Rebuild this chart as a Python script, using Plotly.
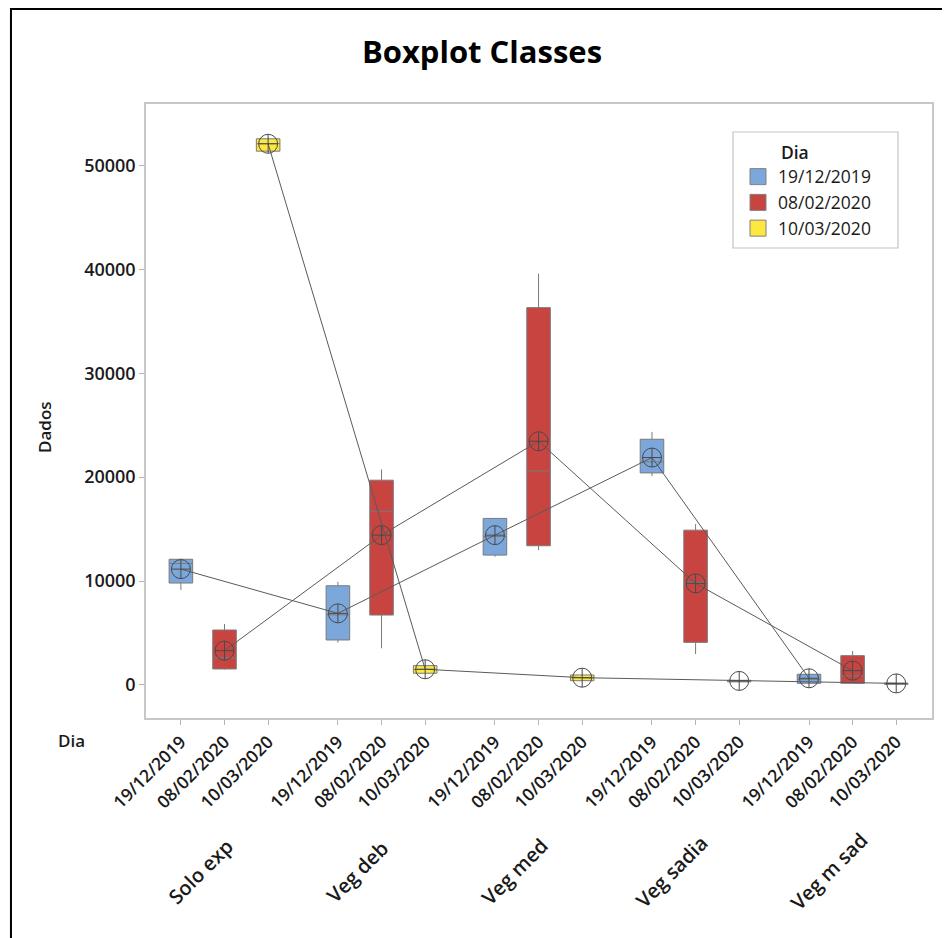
import plotly.graph_objects as go

# ---------------- data ----------------
groups = ["Solo exp", "Veg deb", "Veg med", "Veg sadia", "Veg m sad"]
dates = ["19/12/2019", "08/02/2020", "10/03/2020"]
colors = ["#7BA7DB", "#C84441", "#FDE83F"]

# 19/12/2019
d1_lower = [9150, 4070, 12340, 20100, 150]
d1_q1 = [9810, 4330, 12500, 20410, 160]
d1_median = [11700, 6750, 14300, 21470, 550]
d1_q3 = [12100, 9550, 16030, 23650, 1030]
d1_upper = [12150, 9930, 16050, 24360, 1050]
d1_mean = [11150, 6890, 14420, 21890, 640]

# 08/02/2020
d2_lower = [1500, 3530, 12980, 2980, 150]
d2_q1 = [1540, 6730, 13400, 4100, 160]
d2_median = [2600, 16730, 20600, 9900, 870]
d2_q3 = [5290, 19710, 36320, 14900, 2820]
d2_upper = [5870, 20740, 39590, 15480, 3270]
d2_mean = [3300, 14420, 23460, 9780, 1380]

# 10/03/2020
d3_lower = [51300, 1100, 400, 250, 40]
d3_q1 = [51380, 1130, 410, 300, 60]
d3_median = [52100, 1500, 700, 380, 120]
d3_q3 = [52570, 1860, 960, 450, 180]
d3_upper = [52650, 1900, 1000, 480, 200]
d3_mean = [52090, 1510, 700, 390, 150]

y_ticks = [0, 10000, 20000, 30000, 40000, 50000]

series = [
    (d1_lower, d1_q1, d1_median, d1_q3, d1_upper, d1_mean),
    (d2_lower, d2_q1, d2_median, d2_q3, d2_upper, d2_mean),
    (d3_lower, d3_q1, d3_median, d3_q3, d3_upper, d3_mean),
]

GAP = 3.6  # group spacing in slot units
FONT = "Open Sans"
TXT = "#1a1a1a"

fig = go.Figure()

all_x, all_text = [], []
for g in range(len(groups)):
    for d in range(len(dates)):
        all_x.append(g * GAP + d)
        all_text.append(dates[d])

# boxes
for d, (lo, q1, med, q3, up, mn) in enumerate(series):
    xs = [g * GAP + d for g in range(len(groups))]
    fig.add_trace(go.Box(
        x=xs, q1=q1, median=med, q3=q3, lowerfence=lo, upperfence=up,
        width=0.54, fillcolor=colors[d],
        line=dict(color="#7a7a7a", width=1),
        whiskerwidth=0, boxpoints=False, showlegend=False, hoverinfo="skip",
    ))

# mean connect lines + mean symbols
for d, (lo, q1, med, q3, up, mn) in enumerate(series):
    xs = [g * GAP + d for g in range(len(groups))]
    fig.add_trace(go.Scatter(
        x=xs, y=mn, mode="lines+markers",
        line=dict(color="#5a5a5a", width=1),
        marker=dict(symbol="circle-cross-open", size=19, color="#4a4a4a",
                    line=dict(width=1, color="#4a4a4a")),
        showlegend=False, hoverinfo="skip",
    ))

# legend entries
for d in range(len(dates)):
    fig.add_trace(go.Scatter(
        x=[None], y=[None], mode="markers", name=dates[d],
        marker=dict(symbol="square", size=17, color=colors[d],
                    line=dict(color="#808080", width=1)),
    ))

# group labels
for g, name in enumerate(groups):
    fig.add_annotation(
        x=g * GAP + 1 - 0.55, y=-0.25, xref="x", yref="paper",
        text=name, showarrow=False, textangle=-45,
        xanchor="center", yanchor="middle",
        font=dict(family=FONT, size=20, color=TXT, weight=600),
    )

fig.add_annotation(x=-0.095, y=-0.036, xref="paper", yref="paper", text="Dia",
                   showarrow=False, xanchor="center", yanchor="middle",
                   font=dict(family=FONT, size=17, color=TXT, weight=600))
fig.add_annotation(x=-0.1285, y=0.474, xref="paper", yref="paper", text="Dados",
                   showarrow=False, textangle=-90, xanchor="center", yanchor="middle",
                   font=dict(family=FONT, size=17, color=TXT, weight=600))

# outer black frame
fig.add_shape(type="rect", xref="paper", yref="paper",
              x0=-0.1718, x1=1.03, y0=-0.45, y1=(718 - 9) / 614,
              line=dict(color="black", width=2), layer="below")
# legend frame (733..898 x 132..248 px)
fig.add_shape(type="rect", xref="paper", yref="paper",
              x0=(733 - 146) / 786, x1=(898 - 146) / 786,
              y0=(718 - 248) / 614, y1=(718 - 132) / 614,
              line=dict(color="#c4c4c4", width=1.2), layer="above")

fig.update_layout(
    width=950, height=938,
    margin=dict(l=138, r=26, t=96, b=228),
    paper_bgcolor="white", plot_bgcolor="white",
    boxmode="overlay",
    title=dict(text="<b>Boxplot Classes</b>", x=(482 - 8) / 950, xref="container",
               y=1 - (52 - 8) / 938, yref="container", xanchor="center", yanchor="middle",
               font=dict(family=FONT, size=31, color="black")),
    xaxis=dict(range=[-0.8, 17.22], tickvals=all_x, ticktext=all_text,
               tickangle=-45, ticks="outside", ticklen=5, tickcolor="#b5b5b5",
               showline=True, linecolor="#c8c8c8", linewidth=1.5, mirror=True,
               showgrid=False, zeroline=False,
               tickfont=dict(family=FONT, size=17.5, color=TXT, weight=600)),
    yaxis=dict(range=[-3180, 55920], tickvals=y_ticks,
               ticktext=[str(v) for v in y_ticks],
               ticks="outside", ticklen=5, tickcolor="#b5b5b5",
               showline=True, linecolor="#c8c8c8", linewidth=1.5, mirror=True,
               showgrid=False, zeroline=False,
               tickfont=dict(family=FONT, size=18, color=TXT, weight=600)),
    legend=dict(x=(738 - 146) / 786, y=(718 - 136) / 614, xanchor="left", yanchor="top",
                borderwidth=0, bgcolor="rgba(0,0,0,0)",
                title=dict(text="         Dia", side="top",
                           font=dict(family=FONT, size=17.5, color=TXT, weight=600)),
                font=dict(family=FONT, size=17.5, color=TXT),
                tracegroupgap=0, itemsizing="trace"),
    showlegend=True,
)

fig.write_html("out.html")
